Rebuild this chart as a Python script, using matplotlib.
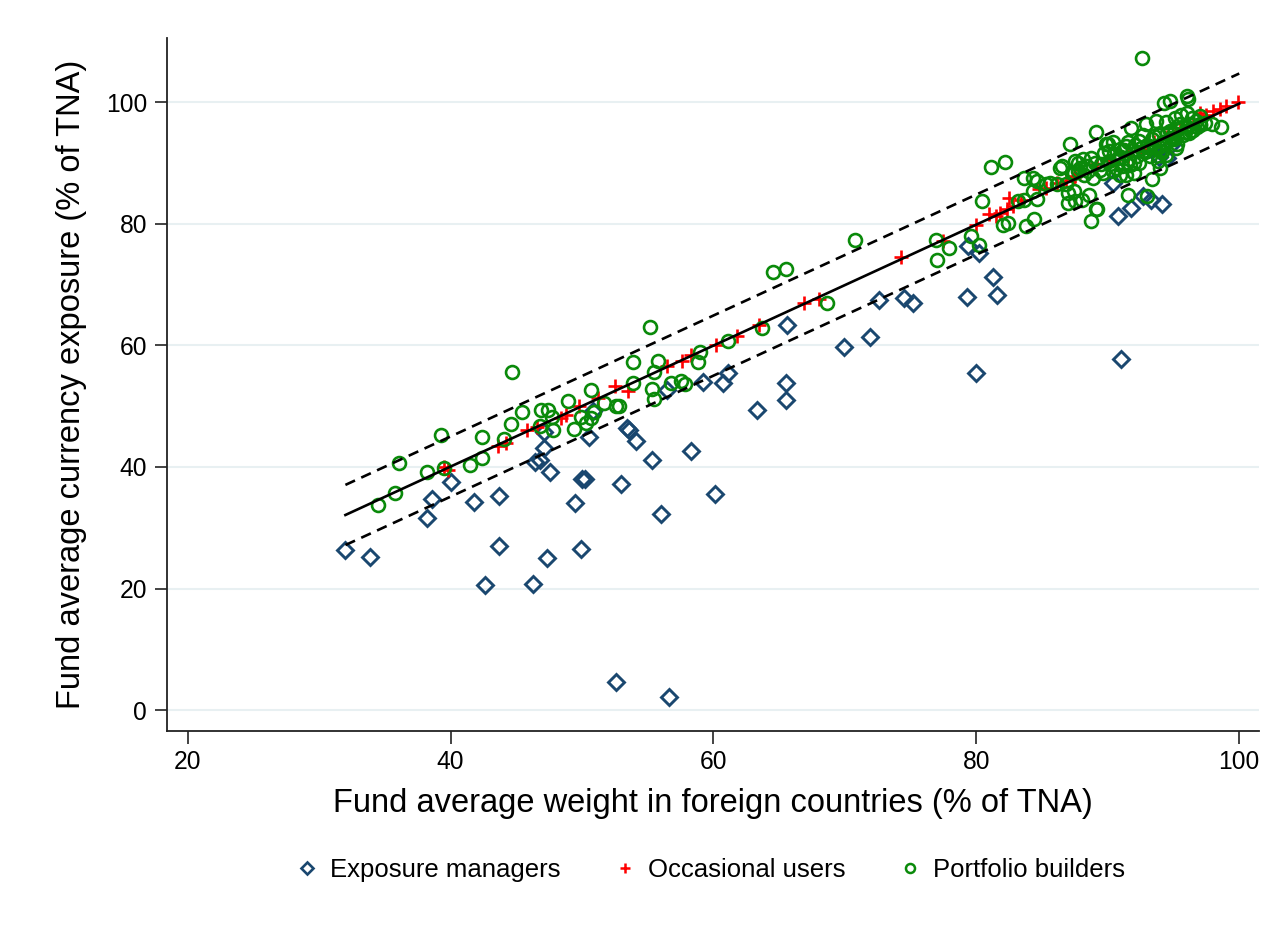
import matplotlib
matplotlib.use("Agg")
import matplotlib.pyplot as plt
import numpy as np
from matplotlib.lines import Line2D

plt.rcParams["font.family"] = ["Liberation Sans", "DejaVu Sans"]

NAVY = "#1a476f"
RED = "#ff0000"
GREEN = "#0a8a0a"
GRID = "#e8f0f2"

# exposure managers
em_x = [32.0, 33.9, 38.2, 38.6, 40.0, 41.8, 43.7, 43.7, 42.6, 46.3, 47.3, 49.9, 49.5, 50.2, 50.0,
        47.6, 46.4, 46.8, 47.1, 47.1, 50.5, 50.8, 53.4, 53.6, 54.1, 53.0, 55.3, 58.3, 60.1, 56.0,
        52.6, 56.6, 56.5, 59.2, 60.7, 61.1, 63.3, 65.5, 65.5, 65.6, 69.9, 71.9, 72.6, 74.5, 75.2,
        79.3, 81.3, 81.6, 79.4, 80.2, 80.0, 91.0, 90.8, 91.8, 92.7, 93.3, 94.1, 90.4, 94.5, 94.9,
        93.9]
em_y = [26.4, 25.2, 31.6, 34.8, 37.5, 34.3, 35.3, 27.0, 20.6, 20.7, 25.1, 26.5, 34.0, 38.0, 38.1,
        39.1, 40.9, 41.2, 43.1, 45.8, 45.0, 49.2, 46.4, 46.1, 44.2, 37.2, 41.2, 42.7, 35.6, 32.2,
        4.6, 2.2, 52.7, 54.0, 53.8, 55.5, 49.4, 53.9, 51.1, 63.3, 59.8, 61.4, 67.5, 67.8, 67.0,
        67.9, 71.2, 68.3, 76.3, 75.2, 55.4, 57.8, 81.3, 82.6, 84.6, 84.0, 83.2, 86.8, 90.9, 93.1,
        91.0]

# occasional users
ou_x = [39.5, 39.8, 43.6, 44.2, 45.8, 46.6, 48.4, 48.8, 49.8, 51.2, 52.5, 53.5, 56.5, 57.6, 58.3,
        60.2, 61.8, 63.5, 66.9, 68.0, 74.3, 77.5, 80.0, 81.0, 81.5, 81.8, 82.3, 82.5, 82.8, 83.4,
        84.8, 85.3, 86.1, 86.8, 87.4, 87.5, 89.2, 90.5, 91.5, 92.5, 93.5, 94.5, 95.5, 96.5, 97.0,
        97.5, 98.0, 98.5, 99.0, 99.9]
ou_y = [40.0, 39.5, 43.4, 44.0, 46.1, 46.5, 48.0, 48.6, 50.0, 51.3, 53.3, 52.5, 56.6, 57.4, 58.5,
        60.0, 61.5, 63.4, 67.0, 67.6, 74.5, 77.2, 79.9, 81.6, 81.3, 81.8, 82.4, 84.3, 82.9, 84.0,
        85.7, 85.9, 86.8, 87.0, 87.6, 87.9, 89.8, 90.5, 91.2, 92.3, 93.5, 94.3, 95.4, 96.6, 98.3,
        97.9, 98.6, 98.9, 99.4, 100.0]

# portfolio builders
pb_x = [34.5, 35.8, 36.1, 38.2, 39.3, 39.5, 41.5, 42.4, 42.4, 44.1, 44.7, 44.6, 45.4, 46.8, 46.9,
        47.4, 47.8, 47.7, 48.9, 49.4, 49.9, 50.3, 50.7, 50.9, 50.7, 51.7, 52.6, 52.8, 53.9, 53.9,
        55.3, 55.5, 55.5, 55.8, 56.8, 57.5, 57.8, 58.8, 59.0, 61.1, 55.2,
        64.5, 65.5, 70.8, 68.6, 63.7,
        81.1, 82.2, 80.4, 76.9, 77.9, 77.0, 79.6, 80.2, 82.0, 82.4, 83.8, 84.4, 83.2, 83.6, 83.6,
        84.3, 84.6, 84.3, 84.6, 85.3, 85.6, 86.1, 86.4, 87.1, 87.5, 87.7, 87.4, 87.7, 87.0, 87.4,
        87.0, 87.5,
        86.5, 88.1, 88.7, 87.9, 88.5, 88.9, 87.3, 86.8, 88.0, 88.6, 89.1, 88.7, 89.9, 90.4, 90.1,
        90.9, 91.4, 89.5, 90.1, 90.6, 91.1, 91.6, 92.2, 92.7, 93.2, 91.4, 92.0, 90.9, 90.4, 89.6,
        91.8, 92.9, 93.7, 94.4, 95.1, 95.6, 96.0, 96.4, 97.0, 93.9, 94.7, 95.4, 96.2, 96.7, 93.4,
        94.2, 94.9, 95.7, 96.3, 92.7, 92.4, 93.2, 93.8, 94.4, 95.2, 94.0, 93.4, 93.0, 91.5, 97.9,
        98.6, 94.7, 94.3, 96.0, 96.1, 92.6, 89.1, 91.0, 92.0, 93.0, 94.0, 95.0, 96.0, 97.0, 95.5,
        94.5, 93.5, 92.5, 91.5, 90.5, 89.0, 88.2, 96.5, 97.0, 89.2, 90.0,
        90.8, 91.9, 92.4, 93.6, 94.8, 95.9, 96.8, 89.7, 90.2, 91.2, 92.8, 93.9, 95.0, 96.2,
        88.4, 89.4, 91.7, 92.1, 94.1, 95.3, 97.4]
pb_y = [33.7, 35.7, 40.6, 39.1, 45.3, 39.8, 40.3, 41.5, 45.0, 44.6, 55.6, 47.0, 49.0, 46.8, 49.4,
        49.4, 46.1, 48.3, 50.8, 46.2, 48.2, 47.3, 48.0, 49.0, 52.7, 50.6, 50.1, 50.0, 57.2, 53.9,
        52.8, 51.2, 55.6, 57.5, 53.8, 54.2, 53.6, 57.3, 59.0, 60.7, 63.1,
        72.1, 72.5, 77.3, 67.0, 62.9,
        89.4, 90.2, 83.7, 77.4, 76.0, 74.1, 78.0, 76.6, 79.9, 80.2, 79.6, 80.8, 83.7, 84.0, 87.6,
        87.6, 87.0, 85.4, 84.1, 86.5, 86.8, 86.5, 89.2, 93.1, 90.3, 90.1, 88.4, 88.7, 85.1, 85.4,
        83.5, 83.7,
        89.5, 90.6, 90.9, 89.2, 88.7, 87.6, 88.4, 86.5, 84.0, 84.8, 82.4, 80.5, 93.1, 93.4, 92.0,
        92.3, 92.8, 89.8, 90.3, 89.2, 89.5, 90.6, 91.2, 92.0, 92.5, 88.1, 88.4, 88.1, 88.7, 88.4,
        95.8, 96.4, 96.9, 96.7, 97.5, 98.0, 98.3, 97.5, 97.8, 94.7, 95.3, 95.8, 96.4, 96.9, 93.9,
        93.4, 93.9, 94.7, 95.3, 94.7, 93.6, 91.2, 90.3, 91.4, 92.5, 89.2, 87.4, 84.6, 84.8, 96.5,
        95.9, 100.2, 99.9, 101.0, 100.5, 107.3, 95.1, 91.0, 90.0, 93.0, 92.0, 95.0, 96.0, 96.5, 96.5,
        95.0, 94.5, 92.5, 93.5, 91.5, 90.0, 88.0, 95.4, 96.2, 82.4, 93.1,
        90.9, 92.1, 90.0, 92.9, 94.2, 95.2, 96.0, 91.6, 89.9, 92.2, 91.8, 92.7, 93.9, 94.9,
        89.6, 88.9, 89.7, 93.0, 91.9, 93.2, 96.6]

# fitted line and prediction band
fit_intercept = 0.24
fit_slope = 0.9956
band_half = 4.95
fit_xmin, fit_xmax = 32.0, 100.0

xticks = [20, 40, 60, 80, 100]
yticks = [0, 20, 40, 60, 80, 100]

fig = plt.figure(figsize=(12.74, 9.35), dpi=100)
ax = fig.add_axes([0.1308, 0.2185, 0.8574, 0.7409])

for yv in yticks:
    ax.axhline(yv, color=GRID, lw=1.5, zorder=0)

ax.plot(em_x, em_y, ls="none", marker="D", ms=8.6, mfc="none", mec=NAVY, mew=2.1, zorder=2)
ax.plot(ou_x, ou_y, ls="none", marker="+", ms=9.5, mec=RED, mew=1.9, zorder=3)
ax.plot(pb_x, pb_y, ls="none", marker="o", ms=9.3, mfc="none", mec=GREEN, mew=1.9, zorder=4)

fx = np.linspace(fit_xmin, fit_xmax, 50)
fy = fit_intercept + fit_slope * fx
ax.plot(fx, fy, color="black", lw=1.9, zorder=5)
ax.plot(fx, fy + band_half, color="black", lw=1.9, ls=(0, (4, 2.6)), zorder=5)
ax.plot(fx, fy - band_half, color="black", lw=1.9, ls=(0, (4, 2.6)), zorder=5)

ax.set_xlim(18.4, 101.5)
ax.set_ylim(-3.4, 110.6)
ax.set_xticks(xticks)
ax.set_yticks(yticks)
ax.tick_params(labelsize=17.7, length=9, width=1.2, pad=5, colors="#222222", labelcolor="black")
for s in ["top", "right"]:
    ax.spines[s].set_visible(False)
for s in ["left", "bottom"]:
    ax.spines[s].set_linewidth(1.3)
    ax.spines[s].set_color("#222222")

ax.set_xlabel("Fund average weight in foreign countries (% of TNA)", fontsize=23.5, labelpad=10)
ax.set_ylabel("Fund average currency exposure (% of TNA)", fontsize=23.5, labelpad=14)

handles = [
    Line2D([], [], ls="none", marker="D", ms=6.5, mfc="none", mec=NAVY, mew=1.9),
    Line2D([], [], ls="none", marker="+", ms=6.5, mec=RED, mew=1.8),
    Line2D([], [], ls="none", marker="o", ms=6.5, mfc="none", mec=GREEN, mew=1.8),
]
labels = ["Exposure managers", "Occasional users", "Portfolio builders"]
fig.legend(handles, labels, loc="center", bbox_to_anchor=(0.557, 0.0695), ncol=3,
           frameon=False, fontsize=18.5, handlelength=1.0, handletextpad=0.4,
           columnspacing=2.0)

fig.savefig("out.png", facecolor="white")
